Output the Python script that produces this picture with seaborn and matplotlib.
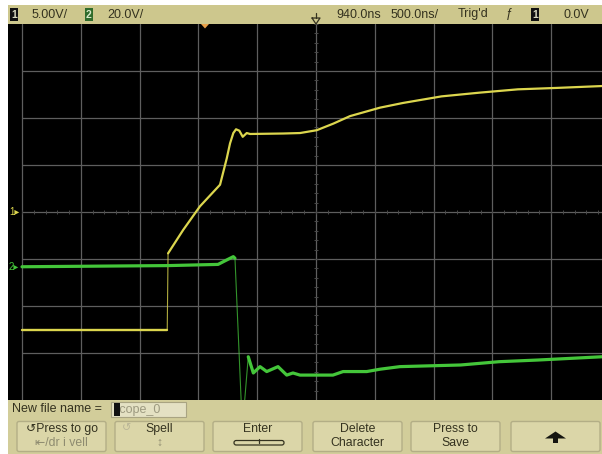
import numpy as np
import pandas as pd
import matplotlib
matplotlib.use("Agg")
import matplotlib.pyplot as plt
import seaborn as sns
from matplotlib.patches import Rectangle, FancyBboxPatch, Polygon

sns.set_theme(style="white")
plt.rcParams["font.family"] = ["Liberation Sans Narrow", "Liberation Sans", "DejaVu Sans"]

# ---- scope settings -------------------------------------------------------
TIME_DIV = 500.0        # ns / div
DELAY = 940.0           # ns at screen centre
CH1_DIV = 5.0           # V / div
CH2_DIV = 20.0          # V / div
CH2_GROUND_DIV = -1.17  # channel 2 ground marker, divisions from centre

# ---- captured waveforms (time in ns, level in V) --------------------------
t_ch1 = [-1560, -325, -318, -189, -47, 124, 181, 209, 237, 260, 288, 317,
         351, 379, 662, 804, 946, 1087, 1229, 1484, 1680, 2007, 2334, 2657,
         2986, 3372]
v_ch1 = [-12.5, -12.5, -4.4, -1.9, 0.6, 2.9, 5.7, 7.3, 8.4, 8.8, 8.65, 8.0,
         8.4, 8.3, 8.35, 8.4, 8.7, 9.4, 10.2, 11.1, 11.6, 12.3, 12.7, 13.05,
         13.2, 13.4]

t_ch2 = [-1560, -310, 107, 181, 237, 251, 308, 325, 364, 407, 464, 521, 617,
         691, 744, 804, 1084, 1170, 1371, 1484, 1654, 2170, 2496, 2822, 3372]
v_ch2 = [0.1, 0.6, 1.1, 3.0, 4.4, 3.7, -62.0, -62.0, -38.2, -45.1, -42.4,
         -44.5, -42.4, -46.0, -45.1, -46.0, -46.0, -44.5, -44.5, -43.5, -42.4,
         -41.7, -40.3, -39.6, -38.2]

# ---- status line and softkeys ---------------------------------------------
ch1_scale_label = "5.00V/"
ch2_scale_label = "20.0V/"
delay_label = "940.0ns"
timebase_label = "500.0ns/"
trigger_state = "Trig'd"
trigger_level = "0.0V"
file_prompt = "New file name ="
file_name = "scope_0"
softkeys = [("\u21baPress to go", "\u21e4/dr i vell"), ("Spell", "\u2195"),
            ("Enter", ""), ("Delete", "Character"), ("Press to", "Save"),
            ("", "")]

# ---- colours ----------------------------------------------------------------
YELLOW = "#dcd64e"
GREEN = "#44c63a"
GRID = "#5e5e5e"
BAR = "#cdc78d"
BAR_LOW = "#d2cd9a"
KEY = "#dbd6a8"
KEY_EDGE = "#b3ae86"
INK = "#34321f"

W, H = 602, 454
fig = plt.figure(figsize=(W / 100, H / 100), dpi=100, facecolor="white")

# screen geometry in pixels
SCR_L, SCR_R, SCR_T, SCR_B = 8, 602, 24, 400
GRAT_L = 22
DIV_PX = 58.8

ax = fig.add_axes([SCR_L / W, 1 - SCR_B / H, (SCR_R - SCR_L) / W,
                   (SCR_B - SCR_T) / H])
ax.set_facecolor("black")
t_left = DELAY - 5 * TIME_DIV
x_lo = t_left - (GRAT_L - SCR_L) / DIV_PX * TIME_DIV
x_hi = t_left + (SCR_R - GRAT_L) / DIV_PX * TIME_DIV
ax.set_xlim(x_lo, x_hi)
ax.set_ylim(-4 * CH1_DIV, 4 * CH1_DIV)

ax2 = ax.twinx()
ax2.set_ylim((-4 - CH2_GROUND_DIV) * CH2_DIV, (4 - CH2_GROUND_DIV) * CH2_DIV)

for a in (ax, ax2):
    a.set_xticks([])
    a.set_yticks([])
    a.set_xlabel("")
    a.set_ylabel("")
    for s in a.spines.values():
        s.set_visible(False)
ax2.grid(False)
ax.grid(False)

# graticule
for k in range(11):
    ax.axvline(t_left + k * TIME_DIV, color=GRID, lw=0.9, zorder=1)
for j in range(-3, 4):
    ax.hlines(j * CH1_DIV, t_left, x_hi, color=GRID, lw=0.9, zorder=1)
minor_t = t_left + np.arange(0, 50.01, 1) * TIME_DIV / 5
ax.plot(minor_t, np.zeros_like(minor_t), ls="none", marker="|", ms=3,
        mew=0.7, color="#4a4a4a", zorder=1)
minor_v = np.arange(-20, 20.01, 1) * CH1_DIV / 5
ax.plot(np.full_like(minor_v, DELAY), minor_v, ls="none", marker="_", ms=3,
        mew=0.7, color="#4a4a4a", zorder=1)

# traces
ch1 = pd.DataFrame({"t": t_ch1, "v": v_ch1})
ch2 = pd.DataFrame({"t": t_ch2, "v": v_ch2})

ch2_pre = ch2[ch2.t <= 251]
ch2_edge = ch2[(ch2.t >= 251) & (ch2.t <= 364)]
ch2_post = ch2[ch2.t >= 364]
for part, lw, alpha in ((ch2_pre, 2.3, 1.0), (ch2_edge, 0.8, 0.75),
                        (ch2_post, 2.3, 1.0)):
    sns.lineplot(data=part, x="t", y="v", ax=ax2, color=GREEN, lw=lw,
                 alpha=alpha, sort=False, estimator=None, zorder=3)

ch1_flat = ch1[ch1.t <= -325]
ch1_step = ch1[(ch1.t >= -325) & (ch1.t <= -318)]
ch1_rest = ch1[ch1.t >= -318]
for part, lw, alpha in ((ch1_flat, 1.7, 1.0), (ch1_step, 0.8, 0.8),
                        (ch1_rest, 1.6, 1.0)):
    sns.lineplot(data=part, x="t", y="v", ax=ax, color=YELLOW, lw=lw,
                 alpha=alpha, sort=False, estimator=None, zorder=4)
ax2.set_xlim(x_lo, x_hi)
for a in (ax, ax2):
    a.set_xlabel("")
    a.set_ylabel("")
    a.set_xticks([])
    a.set_yticks([])

# ---- overlay in pixel coordinates for the instrument frame ----------------
ui = fig.add_axes([0, 0, 1, 1], zorder=5)
ui.set_xlim(0, W)
ui.set_ylim(H, 0)
ui.axis("off")
ui.patch.set_alpha(0)


def rect(x0, y0, x1, y1, **kw):
    ui.add_patch(Rectangle((x0, y0), x1 - x0, y1 - y0, **kw))


# status line
rect(SCR_L, 5, SCR_R, SCR_T, facecolor=BAR, edgecolor="none")
FS = 9
rect(10, 7.5, 18, 20.5, facecolor="#111111", edgecolor="none")
ui.text(14, 14.5, "1", color="#d8d8c0", fontsize=7.5, ha="center", va="center",
        fontweight="bold")
ui.text(32, 14.5, ch1_scale_label, color=INK, fontsize=FS, va="center")
rect(85, 7.5, 93, 20.5, facecolor="#2f6b2b", edgecolor="none")
ui.text(89, 14.5, "2", color="#d8e8c8", fontsize=7.5, ha="center",
        va="center", fontweight="bold")
ui.text(107, 14.5, ch2_scale_label, color=INK, fontsize=FS, va="center")
# delay marker
ui.plot([312, 320, 316, 312], [18, 18, 24, 18], color=INK, lw=0.9)
ui.plot([316, 316], [13, 18], color=INK, lw=0.9)
ui.text(336, 14.5, delay_label, color=INK, fontsize=FS, va="center")
ui.text(391, 14.5, timebase_label, color=INK, fontsize=FS, va="center")
ui.text(458, 14.5, trigger_state, color=INK, fontsize=FS, va="center")
ui.text(509, 14.5, "\u0192", color=INK, fontsize=FS, ha="center", va="center")
rect(531, 7.5, 539, 20.5, facecolor="#111111", edgecolor="none")
ui.text(535, 14.5, "1", color="#d8d8c0", fontsize=7.5, ha="center",
        va="center", fontweight="bold")
ui.text(564, 14.5, trigger_level, color=INK, fontsize=FS, va="center")

# trigger position marker
ui.add_patch(Polygon([[201, 24], [209, 24], [205, 28.5]], closed=True,
                     facecolor="#e8a048", edgecolor="none"))

# channel ground markers
ui.text(9, 212, "1\u25b8", color=YELLOW, fontsize=7, va="center")
ui.text(9, 267, "2\u25b8", color=GREEN, fontsize=7, va="center")

# softkey area
rect(SCR_L, SCR_B, SCR_R, 454, facecolor=BAR_LOW, edgecolor="none")
ui.text(12, 409, file_prompt, color=INK, fontsize=9, va="center")
rect(111, 401.5, 186, 417, facecolor="#e4e1c3", edgecolor="#a9a482", lw=0.8)
ui.text(114, 409.5, file_name, color="#9d9a80", fontsize=9, va="center")
rect(114, 403, 120, 415.5, facecolor="#111111", edgecolor="none", zorder=3)

key_x = [17, 115, 213, 313, 411, 511]
KEY_W = 89
for x0, (l1, l2) in zip(key_x, softkeys):
    ui.add_patch(FancyBboxPatch((x0, 421.5), KEY_W, 30,
                                boxstyle="round,pad=0,rounding_size=2",
                                facecolor=KEY, edgecolor=KEY_EDGE, lw=1.0))
    cx = x0 + KEY_W / 2
    if l1 and l2:
        c2 = "#8e8b70" if x0 in (17, 115) else INK
        ui.text(cx, 429, l1, color=INK, fontsize=8.8, ha="center",
                va="center")
        ui.text(cx, 443, l2, color=c2, fontsize=8.8, ha="center",
                va="center")
    elif l1:
        ui.text(cx, 429, l1, color=INK, fontsize=8.8, ha="center",
                va="center")

# "Enter" key glyph
ui.add_patch(FancyBboxPatch((234, 440.5), 50, 4.5,
                            boxstyle="round,pad=0,rounding_size=2.2",
                            facecolor="none", edgecolor=INK, lw=0.9))
ui.plot([259, 259], [438.5, 442.5], color=INK, lw=0.9)
# faded icon on the "Spell" key
ui.text(127, 428, "\u21ba", color="#b9b597", fontsize=8, ha="center",
        va="center")
# up arrow on the last key
ui.add_patch(Polygon([[555.5, 431.5], [566, 438.5], [558, 438.5], [558, 443],
                      [553, 443], [553, 438.5], [545, 438.5]], closed=True,
                     facecolor="#151510", edgecolor="none"))

fig.savefig("out.png", dpi=100, facecolor="white")
